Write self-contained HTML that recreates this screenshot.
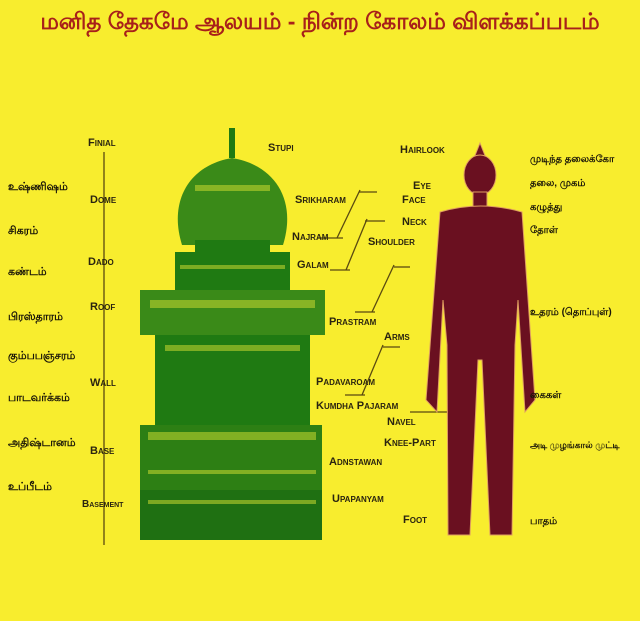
<!DOCTYPE html><html><head><meta charset="utf-8"><style>
body{margin:0;width:640px;height:621px;background:#f8ed2e;position:relative;overflow:hidden;font-family:"Liberation Sans",sans-serif}
.t{position:absolute;font-weight:bold;font-size:11px;font-variant:small-caps;color:#2a2410;white-space:nowrap;line-height:1}
.ta{position:absolute;font-size:11px;color:#1a1608;white-space:nowrap;line-height:1;font-weight:bold;font-family:"Liberation Sans","Noto Sans CJK SC",sans-serif}
.r{font-size:10px}
h1{position:absolute;left:0;top:8px;width:640px;text-align:center;margin:0;font-size:23px;color:#a8201a;font-weight:bold;font-family:"Liberation Sans","Noto Sans CJK SC",sans-serif}
</style></head><body>
<h1>மனித தேகமே ஆலயம் - நின்ற கோலம் விளக்கப்படம்</h1>
<svg width="640" height="621" style="position:absolute;left:0;top:0">
<g stroke="#5a4a10" stroke-width="1.3" fill="none">
<line x1="104" y1="152" x2="104" y2="545"/>
<line x1="359" y1="192" x2="377" y2="192"/><line x1="360" y1="190" x2="337" y2="238"/><line x1="318" y1="238" x2="343" y2="238"/>
<line x1="365" y1="221" x2="385" y2="221"/><line x1="367" y1="219" x2="346" y2="270"/>
<line x1="330" y1="270" x2="350" y2="270"/>
<line x1="394" y1="265" x2="372" y2="312"/><line x1="394" y1="267" x2="410" y2="267"/><line x1="355" y1="312" x2="375" y2="312"/>
<line x1="383" y1="345" x2="362" y2="395"/><line x1="383" y1="347" x2="400" y2="347"/><line x1="345" y1="395" x2="365" y2="395"/>
<line x1="410" y1="412" x2="455" y2="412"/>
</g>
<g fill="#1f7a12">
<rect x="229" y="128" width="6" height="30"/>
<path d="M182 245 C168 200 190 165 232 158 C275 165 297 200 283 245 Z" fill="#3a8a18"/>
<rect x="195" y="240" width="75" height="12"/>
<rect x="175" y="252" width="115" height="38"/>
<rect x="140" y="290" width="185" height="45" fill="#3a8a18"/>
<rect x="155" y="335" width="155" height="95"/>
<rect x="140" y="425" width="182" height="65" fill="#2d7f14"/>
<rect x="140" y="490" width="182" height="50" fill="#1f7012"/>
</g>
<g fill="#c8d830" opacity="0.55">
<rect x="150" y="300" width="165" height="8"/><rect x="165" y="345" width="135" height="6"/><rect x="148" y="432" width="168" height="8"/>
<rect x="148" y="470" width="168" height="4"/><rect x="148" y="500" width="168" height="4"/>
<rect x="195" y="185" width="75" height="6"/><rect x="180" y="265" width="105" height="4"/>
</g>
<g fill="#6a1020" stroke="#e0a060" stroke-width="1">
<path d="M480 143 L486 158 L474 158 Z"/>
<ellipse cx="480" cy="175" rx="16" ry="20"/>
<rect x="473" y="192" width="14" height="16"/>
<path d="M440 212 Q480 200 522 212 L535 400 L525 412 L518 300 L515 345 L512 535 L490 535 L482 360 L478 360 L470 535 L448 535 L447 345 L443 300 L437 412 L426 400 Z"/>
</g>
</svg>
<div class="t" style="left:88px;top:138px">Finial</div>
<div class="t" style="left:90px;top:195px">Dome</div>
<div class="t" style="left:88px;top:257px">Dado</div>
<div class="t" style="left:90px;top:302px">Roof</div>
<div class="t" style="left:90px;top:378px">Wall</div>
<div class="t" style="left:90px;top:446px">Base</div>
<div class="t" style="left:82px;top:500px;font-size:10px">Basement</div>
<div class="ta" style="left:8px;top:182px">உஷ்ணிஷம்</div>
<div class="ta" style="left:8px;top:226px">சிகரம்</div>
<div class="ta" style="left:8px;top:267px">கண்டம்</div>
<div class="ta" style="left:8px;top:312px">பிரஸ்தாரம்</div>
<div class="ta" style="left:8px;top:351px">கும்பபஞ்சரம்</div>
<div class="ta" style="left:8px;top:393px">பாடவர்க்கம்</div>
<div class="ta" style="left:8px;top:438px">அதிஷ்டானம்</div>
<div class="ta" style="left:8px;top:482px">உப்பீடம்</div>
<div class="t" style="left:268px;top:143px">Stupi</div>
<div class="t" style="left:295px;top:195px">Srikharam</div>
<div class="t" style="left:292px;top:232px">Najram</div>
<div class="t" style="left:297px;top:260px">Galam</div>
<div class="t" style="left:329px;top:317px">Prastram</div>
<div class="t" style="left:316px;top:377px">Padavaroam</div>
<div class="t" style="left:316px;top:401px">Kumdha Pajaram</div>
<div class="t" style="left:329px;top:457px">Adnstawan</div>
<div class="t" style="left:332px;top:494px">Upapanyam</div>
<div class="t" style="left:400px;top:145px">Hairlook</div>
<div class="t" style="left:413px;top:181px">Eye</div>
<div class="t" style="left:402px;top:195px">Face</div>
<div class="t" style="left:402px;top:217px">Neck</div>
<div class="t" style="left:368px;top:237px">Shoulder</div>
<div class="t" style="left:384px;top:332px">Arms</div>
<div class="t" style="left:387px;top:417px">Navel</div>
<div class="t" style="left:384px;top:438px">Knee-Part</div>
<div class="t" style="left:403px;top:515px">Foot</div>
<div class="ta r" style="left:530px;top:155px">முடிந்த தலைக்கோ</div>
<div class="ta r" style="left:530px;top:179px">தலை, முகம்</div>
<div class="ta r" style="left:530px;top:203px">கழுத்து</div>
<div class="ta r" style="left:530px;top:226px">தோள்</div>
<div class="ta r" style="left:530px;top:308px">உதரம் (தொப்புள்)</div>
<div class="ta r" style="left:530px;top:391px">கைகள்</div>
<div class="ta r" style="left:530px;top:441px;font-size:9px">அடி முழங்கால் முட்டி</div>
<div class="ta r" style="left:530px;top:517px">பாதம்</div>
</body></html>
